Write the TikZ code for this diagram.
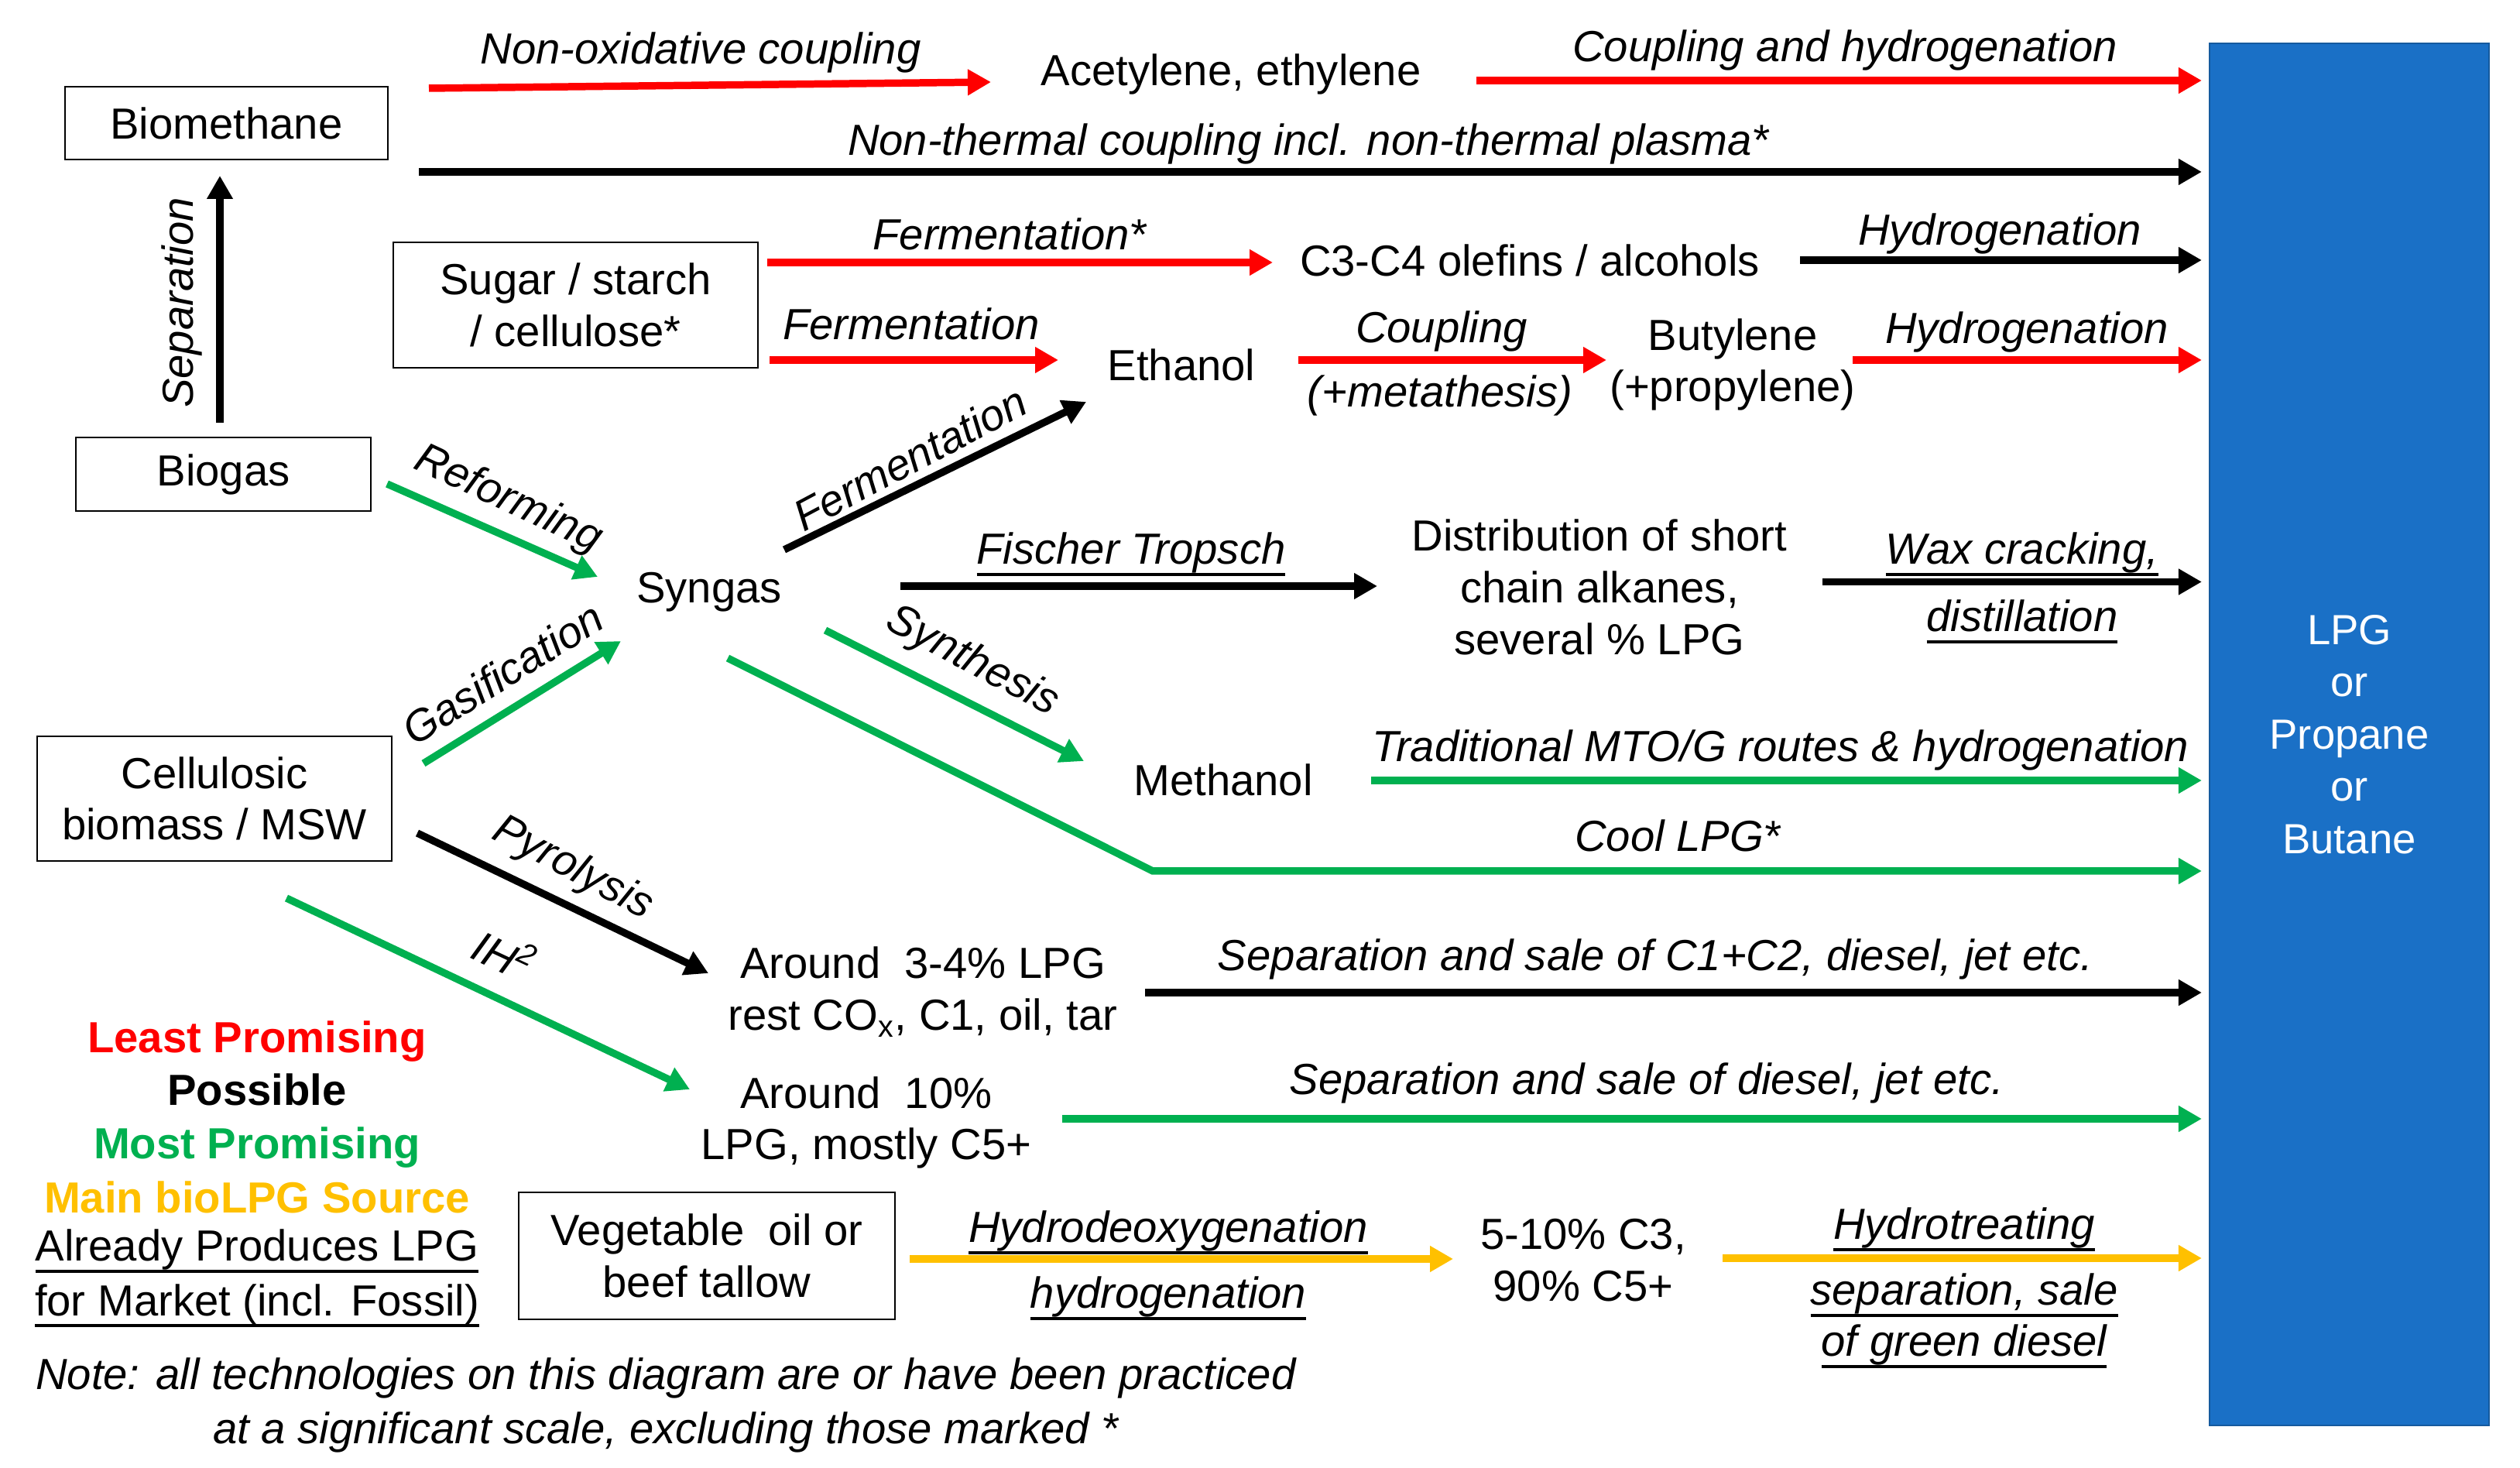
\documentclass[tikz,border=0pt]{standalone}
\usepackage{fontspec}
\setmainfont{Liberation Sans}
\usepackage{tikz}
\usetikzlibrary{arrows.meta}
\usetikzlibrary{positioning}
\definecolor{lpgred}{RGB}{255,0,0}
\definecolor{lpggreen}{RGB}{0,176,80}
\definecolor{lpggold}{RGB}{255,192,0}
\definecolor{lpgblue}{RGB}{26,112,198}
\newcommand{\undl}[1]{\setbox0=\hbox{#1}\leavevmode\rlap{\rule[-4.2pt]{\wd0}{1.1pt}}\box0}

\begin{document}
\begin{tikzpicture}[
    font=\fontsize{16}{19}\selectfont,
    box/.style={draw,line width=0.8pt,inner sep=0pt,align=center},
    txt/.style={inner sep=0pt,align=center},
    lab/.style={font=\fontsize{16}{19}\selectfont\itshape,inner sep=0pt,align=center},
    legend/.style={font=\fontsize{16}{19}\selectfont\bfseries,inner sep=0pt},
    arr/.style={line width=2.7pt,-{Triangle[length=3mm,width=3.2mm]}},
    toblue/.style={shorten >=0.9mm}]
    \useasboundingbox (0,0) rectangle (32.55,18.96);
    % feedstocks
    \node[box,minimum width=4.17cm,minimum height=0.94cm] (biometh) at (2.925,17.37) {Biomethane};
    \node[box,minimum width=4.71cm,minimum height=1.62cm] (sugar) at (7.435,15.02) {Sugar / starch\\/ cellulose*};
    \node[box,minimum width=3.81cm,minimum height=0.95cm] (biogas) at (2.885,12.835) {Biogas};
    \node[box,minimum width=4.58cm,minimum height=1.61cm] (cellbio) at (2.77,8.645) {Cellulosic\\biomass / MSW};
    \node[box,minimum width=4.86cm,minimum height=1.64cm] (vegoil) at (9.13,2.74) {Vegetable~ oil or\\beef tallow};
    % end product
    \node[fill=lpgblue,draw=lpgblue!80!black,line width=0.6pt,minimum width=3.61cm,minimum height=17.85cm,
      text=white,align=center,font=\fontsize{15.5}{19.2}\selectfont] (lpg) at (30.345,9.475)
      {LPG\\or\\Propane\\or\\Butane};
    % intermediates
    \node[txt] (acet) at (15.90,18.00) {Acetylene, ethylene};
    \node[txt] (olefin) at (19.76,15.60) {C3-C4 olefins / alcohols};
    \node[txt] (ethanol) at (15.26,14.25) {Ethanol};
    \node[txt] (butyl) at (22.38,14.25) {Butylene\\(+propylene)};
    \node[txt] (syngas) at (9.16,11.31) {Syngas};
    \node[txt] (distrib) at (20.66,11.375) {Distribution of short\\chain alkanes,\\several \% LPG};
    \node[txt] (methanol) at (15.80,8.89) {Methanol};
    \node[txt] (pyroprod) at (11.92,6.15) {Around~~3-4\% LPG\\rest CO\textsubscript{x}, C1, oil, tar};
    \node[txt] (ihprod) at (11.19,4.46) {Around~~10\%\\LPG, mostly C5+};
    \node[txt] (hdoprod) at (20.45,2.685) {5-10\% C3,\\90\% C5+};
    % arrow ends
    \coordinate (nox-a) at (5.54,17.82);  \coordinate (nox-b) at (12.80,17.90);
    \coordinate (cah-a) at (19.07,17.92);
    \coordinate (ntc-a) at (5.41,16.74);
    \coordinate (sep-a) at (2.84,13.50);  \coordinate (sep-b) at (2.84,16.69);
    \coordinate (fst-a) at (9.91,15.57);  \coordinate (fst-b) at (16.44,15.57);
    \coordinate (hyo-a) at (23.25,15.60);
    \coordinate (fer-a) at (9.94,14.31);  \coordinate (fer-b) at (13.67,14.31);
    \coordinate (cpl-a) at (16.77,14.31); \coordinate (cpl-b) at (20.75,14.31);
    \coordinate (hyb-a) at (23.93,14.31);
    \coordinate (ref-a) at (5.00,12.71);  \coordinate (ref-b) at (7.72,11.51);
    \coordinate (fed-a) at (10.13,11.86); \coordinate (fed-b) at (14.03,13.77);
    \coordinate (gas-a) at (5.47,9.10);   \coordinate (gas-b) at (8.02,10.68);
    \coordinate (fit-a) at (11.63,11.39); \coordinate (fit-b) at (17.79,11.39);
    \coordinate (wax-a) at (23.54,11.445);
    \coordinate (syn-a) at (10.66,10.82); \coordinate (syn-b) at (14.00,9.13);
    \coordinate (mto-a) at (17.71,8.88);
    \coordinate (cool-a) at (9.40,10.46); \coordinate (cool-k) at (14.89,7.71);
    \coordinate (pyr-a) at (5.39,8.20);   \coordinate (pyr-b) at (9.15,6.39);
    \coordinate (ih-a) at (3.70,7.36);    \coordinate (ih-b) at (8.91,4.89);
    \coordinate (sc1-a) at (14.79,6.14);
    \coordinate (sdi-a) at (13.72,4.51);
    \coordinate (hdo-a) at (11.75,2.70);  \coordinate (hdo-b) at (18.77,2.70);
    \coordinate (hyt-a) at (22.25,2.71);
    % red routes
    \draw[arr,lpgred] (nox-a) -- (nox-b);
    \draw[arr,lpgred,toblue] (cah-a) -- (cah-a -| lpg.west);
    \draw[arr,lpgred] (fst-a) -- (fst-b);
    \draw[arr,lpgred] (fer-a) -- (fer-b);
    \draw[arr,lpgred] (cpl-a) -- (cpl-b);
    \draw[arr,lpgred,toblue] (hyb-a) -- (hyb-a -| lpg.west);
    % black routes
    \draw[arr,toblue] (ntc-a) -- (ntc-a -| lpg.west);
    \draw[arr] (sep-a) -- (sep-b);
    \draw[arr,toblue] (hyo-a) -- (hyo-a -| lpg.west);
    \draw[arr] (fed-a) -- (fed-b);
    \draw[arr] (fit-a) -- (fit-b);
    \draw[arr,toblue] (wax-a) -- (wax-a -| lpg.west);
    \draw[arr] (pyr-a) -- (pyr-b);
    \draw[arr,toblue] (sc1-a) -- (sc1-a -| lpg.west);
    % green routes
    \draw[arr,lpggreen] (ref-a) -- (ref-b);
    \draw[arr,lpggreen] (gas-a) -- (gas-b);
    \draw[arr,lpggreen] (syn-a) -- (syn-b);
    \draw[arr,lpggreen,toblue] (mto-a) -- (mto-a -| lpg.west);
    \draw[arr,lpggreen,toblue] (cool-a) -- (cool-k) -- (cool-k -| lpg.west);
    \draw[arr,lpggreen] (ih-a) -- (ih-b);
    \draw[arr,lpggreen,toblue] (sdi-a) -- (sdi-a -| lpg.west);
    % gold routes
    \draw[arr,lpggold] (hdo-a) -- (hdo-b);
    \draw[arr,lpggold,toblue] (hyt-a) -- (hyt-a -| lpg.west);
    % route labels
    \node[lab] (l-nox) at (9.05,18.28) {Non-oxidative coupling};
    \node[lab] (l-cah) at (23.83,18.31) {Coupling and hydrogenation};
    \node[lab] (l-ntc) at (16.90,17.10) {Non-thermal coupling incl. non-thermal plasma*};
    \node[lab,rotate=90] (l-sep) at (2.35,15.05) {Separation};
    \node[lab] (l-fst) at (13.04,15.94) {Fermentation*};
    \node[lab] (l-hyo) at (25.83,15.94) {Hydrogenation};
    \node[lab] (l-fer) at (11.77,14.78) {Fermentation};
    \node[lab] (l-cpl) at (18.62,14.68) {Coupling};
    \node[lab] (l-met) at (18.60,13.85) {(+metathesis)};
    \node[lab] (l-hyb) at (26.18,14.67) {Hydrogenation};
    \node[lab,rotate=-25] (l-ref) at (6.56,12.50) {Reforming};
    \node[lab,rotate=28] (l-fed) at (11.75,13.04) {Fermentation};
    \node[lab,rotate=32] (l-gas) at (6.49,10.26) {Gasification};
    \node[lab] (l-fit) at (14.61,11.80) {\undl{Fischer Tropsch}};
    \node[lab] (l-wax1) at (26.12,11.80) {\undl{Wax cracking,}};
    \node[lab] (l-wax2) at (26.12,10.93) {\undl{distillation}};
    \node[lab,rotate=-28] (l-syn) at (12.56,10.41) {Synthesis};
    \node[lab] (l-mto) at (23.00,9.27) {Traditional MTO/G routes \& hydrogenation};
    \node[lab] (l-cool) at (21.67,8.17) {Cool LPG*};
    \node[lab,rotate=-28] (l-pyr) at (7.40,7.74) {Pyrolysis};
    \node[lab,rotate=-25] (l-ih) at (6.52,6.65) {IH\textsuperscript{2}};
    \node[lab] (l-sc1) at (21.38,6.57) {Separation and sale of C1+C2, diesel, jet etc.};
    \node[lab] (l-sdi) at (21.27,4.97) {Separation and sale of diesel, jet etc.};
    \node[lab] (l-hdo1) at (15.09,3.04) {\undl{Hydrodeoxygenation}};
    \node[lab] (l-hdo2) at (15.09,2.19) {\undl{hydrogenation}};
    \node[lab] (l-hyt1) at (25.37,3.08) {\undl{Hydrotreating}};
    \node[lab] (l-hyt2) at (25.37,2.23) {\undl{separation, sale}};
    \node[lab] (l-hyt3) at (25.37,1.57) {\undl{of green diesel}};
    % legend
    \node[legend,text=lpgred] (leg-least) at (3.32,5.51) {Least Promising};
    \node[legend] (leg-poss) at (3.32,4.89) {Possible};
    \node[legend,text=lpggreen] (leg-most) at (3.32,4.14) {Most Promising};
    \node[legend,text=lpggold] (leg-main) at (3.32,3.50) {Main bioLPG Source};
    \node[txt] (leg-fossil) at (3.32,2.45) {\undl{Already Produces LPG}\\[1pt]\undl{for Market (incl. Fossil)}};
    % note
    \node[lab] (note) at (8.60,0.81) {Note: all technologies on this diagram are or have been practiced\\[1pt]
      at a significant scale, excluding those marked *};
\end{tikzpicture}
\end{document}
